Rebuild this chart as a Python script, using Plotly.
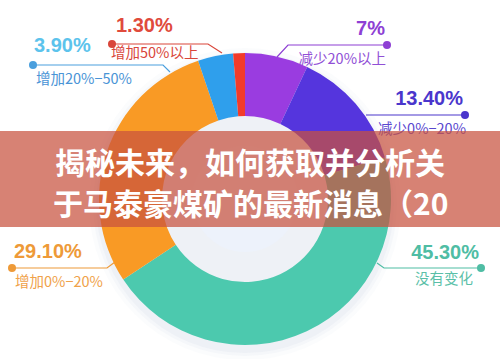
import plotly.graph_objects as go

# ---- data ----
categories = ["减少20%以上", "减少0%−20%", "没有变化", "增加0%−20%", "增加20%−50%", "增加50%以上"]
values = [7.0, 13.4, 45.3, 29.1, 3.9, 1.3]
pct_text = ["7%", "13.40%", "45.30%", "29.10%", "3.90%", "1.30%"]
title_lines = ["揭秘未来，如何获取并分析关", "于马泰豪煤矿的最新消息（20"]

# ---- style ----
slice_colors = ["#9A3CE0", "#5535DD", "#4CC9AE", "#F99A25", "#2F9FEC", "#F23B2A"]
pct_colors = ["#8E3FD4", "#4A36CC", "#4FBDA4", "#EE9A38", "#5CC3EC", "#E04A3C"]
sub_colors = ["#9150D6", "#5A48CF", "#5BBFA8", "#F0A24A", "#4A94D6", "#D9463A"]
line_colors = ["#8E3FD4", "#4A36CC", "#4FBDA4", "#EE9A38", "#4A9FDD", "#D9463A"]

W, H = 500, 359
cx, cy, R = 245, 199, 146

# label geometry (pixel coords): leader polyline, dot = last point
leaders = [
    [(277, 57), (288, 45), (387, 45)],
    [(366, 115), (465, 115)],
    [(377, 263), (384, 268), (481, 268)],
    [(115, 262), (107, 268), (12, 268)],
    [(170, 72), (163, 65), (33, 65)],
    [(222, 53), (208, 44), (112, 44)],
]
pct_pos = [(385, 30, "r"), (463, 100, "r"), (479, 254, "r"), (14, 253, "l"), (34, 47, "l"), (116, 27, "l")]
sub_pos = [(386, 60, "r"), (466, 130, "r"), (473, 280, "r"), (15, 283, "l"), (36, 80, "l"), (111, 54, "l")]

fig = go.Figure()

fig.add_trace(go.Pie(
    values=values, labels=categories, sort=False, direction="clockwise", rotation=0,
    hole=83 / 146, textinfo="none", hoverinfo="skip", showlegend=False,
    marker=dict(colors=slice_colors, line=dict(width=0)),
    domain=dict(x=[(cx - R) / W, (cx + R) / W], y=[1 - (cy + R) / H, 1 - (cy - R) / H]),
))

for i in range(len(values)):
    xs = [p[0] for p in leaders[i]]
    ys = [p[1] for p in leaders[i]]
    fig.add_trace(go.Scatter(x=xs, y=ys, mode="lines", line=dict(color=line_colors[i], width=1.2),
                             hoverinfo="skip", showlegend=False))
    fig.add_trace(go.Scatter(x=[xs[-1]], y=[ys[-1]], mode="markers",
                             marker=dict(color=line_colors[i], size=8), hoverinfo="skip", showlegend=False))
    px, py, al = pct_pos[i]
    fig.add_trace(go.Scatter(x=[px], y=[py], mode="text", text=[pct_text[i]],
                             textposition="middle left" if al == "r" else "middle right",
                             textfont=dict(family="Liberation Sans, Arial, sans-serif", size=20,
                                           color=pct_colors[i], weight="bold"),
                             hoverinfo="skip", showlegend=False))
    sx, sy, al = sub_pos[i]
    fig.add_trace(go.Scatter(x=[sx], y=[sy], mode="text", text=[categories[i]],
                             textposition="middle left" if al == "r" else "middle right",
                             textfont=dict(family="Noto Sans CJK SC, sans-serif", size=14.5, color=sub_colors[i]),
                             hoverinfo="skip", showlegend=False))

shapes = []
# soft shadow
for r, a in [(156, 0.025), (152, 0.035), (149, 0.045)]:
    shapes.append(dict(type="circle", xref="x", yref="y", x0=cx - r, x1=cx + r, y0=cy + 5 - r, y1=cy + 5 + r,
                       fillcolor=f"rgba(90,110,170,{a})", line=dict(width=0), layer="below"))
# inner light disc
ri = 53
shapes.append(dict(type="circle", xref="x", yref="y", x0=cx - ri, x1=cx + ri, y0=cy - ri, y1=cy + ri,
                   fillcolor="#EDF2FB", line=dict(width=0), layer="below"))
# banner
shapes.append(dict(type="rect", xref="x", yref="y", x0=0, x1=W, y0=131, y1=227,
                   fillcolor="rgba(200,82,62,0.72)", line=dict(width=0), layer="above"))

annotations = []
for txt, yy in zip(title_lines, [161, 202]):
    annotations.append(dict(x=250, y=yy, xref="x", yref="y", text=txt, showarrow=False,
                            xanchor="center", yanchor="middle",
                            font=dict(family="Noto Sans CJK SC, sans-serif", size=30, color="white", weight="bold")))

fig.update_layout(
    width=W, height=H, margin=dict(l=0, r=0, t=0, b=0),
    paper_bgcolor="white", plot_bgcolor="rgba(0,0,0,0)",
    xaxis=dict(range=[0, W], visible=False, fixedrange=True, domain=[0, 1]),
    yaxis=dict(range=[H, 0], visible=False, fixedrange=True, domain=[0, 1]),
    shapes=shapes, annotations=annotations, showlegend=False,
)

fig.write_html("out.html", config={"displayModeBar": False},
               post_script="document.body.style.margin='0';document.body.style.overflow='hidden';")
